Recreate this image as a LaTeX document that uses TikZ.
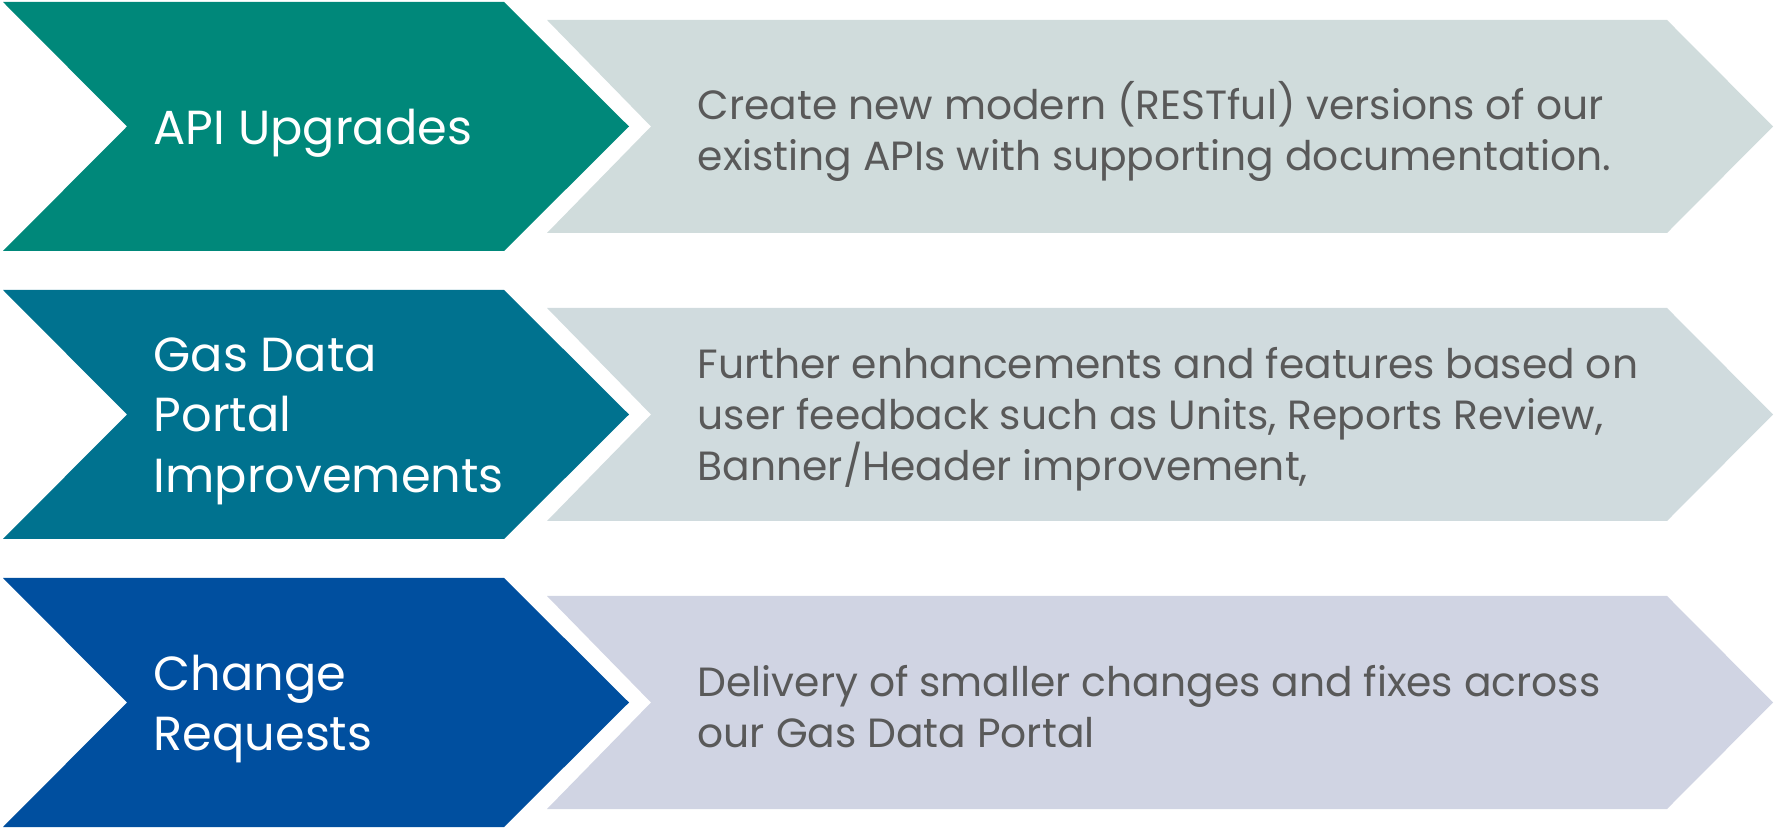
\documentclass[tikz,border=0pt]{standalone}
\usepackage{fontspec}
\setmainfont{Poppins}
\usetikzlibrary{positioning}
\definecolor{apiteal}{RGB}{0,136,122}
\definecolor{gdpblue}{RGB}{0,114,143}
\definecolor{crblue}{RGB}{0,79,159}
\definecolor{apilight}{RGB}{208,220,220}
\definecolor{gdplight}{RGB}{208,219,222}
\definecolor{crlight}{RGB}{208,212,227}
\definecolor{bodygray}{RGB}{89,89,89}
\tikzset{
  headtext/.style={anchor=west, align=left, text=white, inner sep=0pt,
    font=\fontsize{13.6}{17.2}\selectfont},
  bodytext/.style={anchor=west, align=left, text=bodygray, inner sep=0pt,
    font=\fontsize{11.6}{14.5}\selectfont}
}

\begin{document}
\begin{tikzpicture}[x=0.01cm,y=-0.01cm]
\useasboundingbox (0,0) rectangle (1776,828);
% Chevron rows: top edge / dark fill / light fill / row name
\foreach \t/\dk/\lt/\nm in {2/apiteal/apilight/api, 290/gdpblue/gdplight/gdp, 578/crblue/crlight/cr} {
  \fill[\dk] (3,\t) -- (504,\t) -- (629,\t+124.5) -- (504,\t+249)
    -- (3,\t+249) -- (127,\t+124.5) -- cycle;
  \fill[\lt] (547,\t+18) -- (1667,\t+18) -- (1773,\t+124.5) -- (1667,\t+231)
    -- (547,\t+231) -- (651,\t+124.5) -- cycle;
  \coordinate (\nm-head) at (153,\t+131);
  \coordinate (\nm-body) at (697,\t+129);
}
% Titles
\node[headtext] (apititle) at (api-head) {API Upgrades};
\node[headtext] (gdptitle) at (gdp-head) {Gas Data\\Portal\\Improvements};
\node[headtext] (crtitle) at (cr-head) {Change\\Requests};
% Descriptions
\node[bodytext] (apidesc) at (api-body)
  {Create new modern (RESTful) versions of our\\existing APIs with supporting documentation.};
\node[bodytext] (gdpdesc) at (gdp-body)
  {Further enhancements and features based on\\user feedback such as Units, Reports Review,\\Banner/Header improvement,};
\node[bodytext] (crdesc) at (cr-body)
  {Delivery of smaller changes and fixes across\\our Gas Data Portal};
\end{tikzpicture}
\end{document}
